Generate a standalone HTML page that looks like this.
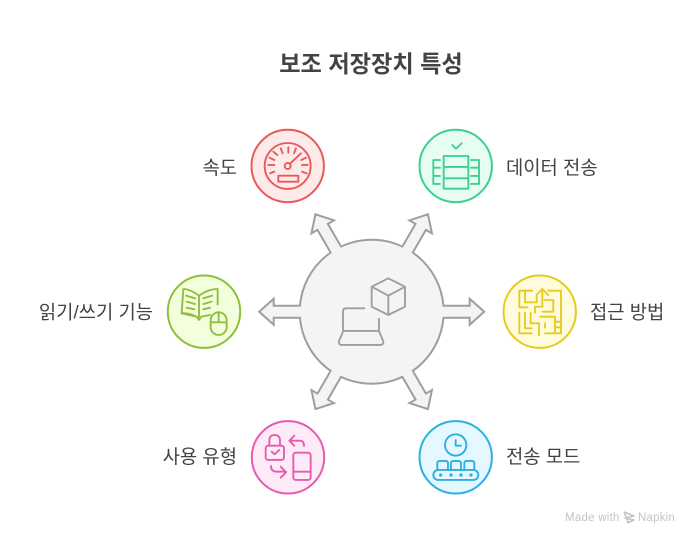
<!DOCTYPE html>
<html>
<head>
<meta charset="utf-8">
<style>
html,body{margin:0;padding:0;background:#fff;}
svg{display:block;}
text{font-family:"Liberation Sans","Noto Sans CJK KR",sans-serif;fill:#434343;}
.l{font-size:18.8px;}
.z{fill:none;stroke-linecap:round;stroke-linejoin:round;stroke-width:5.6;}
</style>
</head>
<body>
<svg width="696" height="542" viewBox="0 0 696 542" xmlns="http://www.w3.org/2000/svg">
<rect width="696" height="542" fill="#fff"/>
<text x="371" y="72" font-size="23.2" font-weight="700" text-anchor="middle">보조 저장장치 특성</text>

<!-- centre with arrows -->
<circle cx="371.7" cy="311.7" r="72" fill="#f4f4f4" stroke="#9e9e9e" stroke-width="2"/>
<defs>
<g id="arr">
<path d="M71 -6H98V-13L112.5 0L98 13V6H71" fill="#f4f4f4" stroke="#9e9e9e" stroke-width="2" stroke-linejoin="miter"/>
<rect x="68" y="-5" width="7" height="10" fill="#f4f4f4"/>
</g>
</defs>
<use href="#arr" transform="translate(371.7 311.7)"/>
<use href="#arr" transform="translate(371.7 311.7) rotate(180)"/>
<use href="#arr" transform="translate(371.7 311.7) rotate(60)"/>
<use href="#arr" transform="translate(371.7 311.7) rotate(120)"/>
<use href="#arr" transform="translate(371.7 311.7) rotate(-60)"/>
<use href="#arr" transform="translate(371.7 311.7) rotate(-120)"/>
<g transform="translate(255 205) scale(.3333)" class="z" stroke="#9e9e9e">
<path d="M400 220L450 245V305L400 330L350 305V245Z M350 245L400 272L450 245 M400 272V330"/>
<path d="M328 310H272Q264 310 264 320V375 M372 342V378"/>
<path d="M265 378H372L385 410Q386 420 375 420H262Q250 420 252 408Z"/>
</g>

<!-- red -->
<circle cx="287.7" cy="166" r="36.2" fill="#ffeaea" stroke="#e85a5a" stroke-width="2"/>
<g transform="translate(240 120) scale(.3333)" class="z" stroke="#e85a5a">
<circle cx="143" cy="138" r="69"/>
<circle cx="143" cy="138" r="9"/>
<path d="M150 131L183 100"/>
<rect x="115" y="167" width="60" height="18"/>
<path d="M90 160L103 155M85 135H103M88 113L103 120M100 95L112 105M122 85L128 100M145 82V98M168 85L162 100M203 135H186M198 113L184 120M200 160L186 155"/>
</g>

<!-- green -->
<circle cx="455.7" cy="166" r="36.2" fill="#e6fdf3" stroke="#3ecf8e" stroke-width="2"/>
<g transform="translate(405 120) scale(.3333)" class="z" stroke="#3ecf8e">
<path d="M142 75L153 86L170 70"/>
<rect x="116" y="108" width="74" height="98"/>
<path d="M116 141H190M116 175H190"/>
<path d="M105 120H85V192H105M85 143H105M85 168H105"/>
<path d="M198 120H222V192H198M198 143H222M198 168H222"/>
</g>

<!-- yellow -->
<circle cx="539.7" cy="311.7" r="36.2" fill="#fffbdc" stroke="#e4cc1f" stroke-width="2"/>
<g transform="translate(490 265) scale(.3333)" class="z" stroke="#e4cc1f">
<path d="M127 77H88V127H113M105 78V112H140V92"/>
<path d="M140 90L157 72L175 90M157 72V125H135V143"/>
<path d="M88 143V205H125M105 143V190H125M122 143V175H147V210"/>
<path d="M175 77H213V205H165M195 205V155H150M195 170H213M195 187H213"/>
<path d="M157 140H190V105H165M165 175V188"/>
</g>

<!-- lime -->
<circle cx="204" cy="311.7" r="36.2" fill="#f2fedc" stroke="#8fbf3a" stroke-width="2"/>
<g transform="translate(155 265) scale(.3333)" class="z" stroke="#8fbf3a">
<path d="M132 92Q105 72 85 72L80 145Q105 142 132 160V92Q160 72 188 72V118"/>
<path d="M80 145L125 155L132 165L139 155L165 150"/>
<path d="M93 92L120 100M95 110L120 117M95 128L118 133M145 100L172 92M145 117L170 110M145 133L165 128"/>
<rect x="167" y="142" width="48" height="68" rx="24"/>
<path d="M191 142V172M167 172H215"/>
</g>

<!-- pink -->
<circle cx="288" cy="457.3" r="36.2" fill="#ffeaf7" stroke="#e55bb0" stroke-width="2"/>
<g transform="translate(240 410) scale(.3333)" class="z" stroke="#e55bb0">
<rect x="77" y="107" width="55" height="43" rx="8"/>
<path d="M88 107V92Q88 75 104 75Q120 75 120 92V107"/>
<path d="M95 125L104 133L118 120"/>
<path d="M148 92H180Q192 92 192 108M163 77L148 92L163 107"/>
<path d="M93 168Q93 185 110 185H138M122 170L138 187L122 203"/>
<rect x="160" y="128" width="52" height="82" rx="8"/>
<path d="M160 185H212"/>
</g>

<!-- blue -->
<circle cx="455.7" cy="457.3" r="36.2" fill="#e5f7ff" stroke="#2bb0e0" stroke-width="2"/>
<g transform="translate(405 410) scale(.3333)" class="z" stroke="#2bb0e0">
<circle cx="152" cy="105" r="32"/>
<path d="M152 90V107H168"/>
<path d="M97 180V160Q97 153 104 153H122Q129 153 129 160V180M138 180V160Q138 153 145 153H161Q168 153 168 160V180M178 180V160Q178 153 185 153H201Q208 153 208 160V180"/>
<rect x="85" y="180" width="135" height="30" rx="15"/>
<g fill="#2bb0e0" stroke="none"><circle cx="107" cy="195" r="5"/><circle cx="138" cy="195" r="5"/><circle cx="168" cy="195" r="5"/><circle cx="198" cy="195" r="5"/></g>
</g>

<!-- labels -->
<text class="l" x="237" y="174" text-anchor="end">속도</text>
<text class="l" x="506" y="174">데이터 전송</text>
<text class="l" x="590" y="318.5">접근 방법</text>
<text class="l" x="153" y="318.5" text-anchor="end">읽기/쓰기 기능</text>
<text class="l" x="237" y="463" text-anchor="end">사용 유형</text>
<text class="l" x="506" y="463">전송 모드</text>

<!-- watermark -->
<text x="565" y="521" font-size="11.5" letter-spacing=".25" style="fill:#c4c4c4">Made with</text>
<path d="M624 512L634 516L625 518L634 520L627 523M624 512L628 522" fill="none" stroke="#c4c4c4" stroke-width="1.5" stroke-linejoin="round"/>
<text x="638" y="521" font-size="11.5" letter-spacing=".2" style="fill:#c4c4c4">Napkin</text>
</svg>
</body>
</html>
